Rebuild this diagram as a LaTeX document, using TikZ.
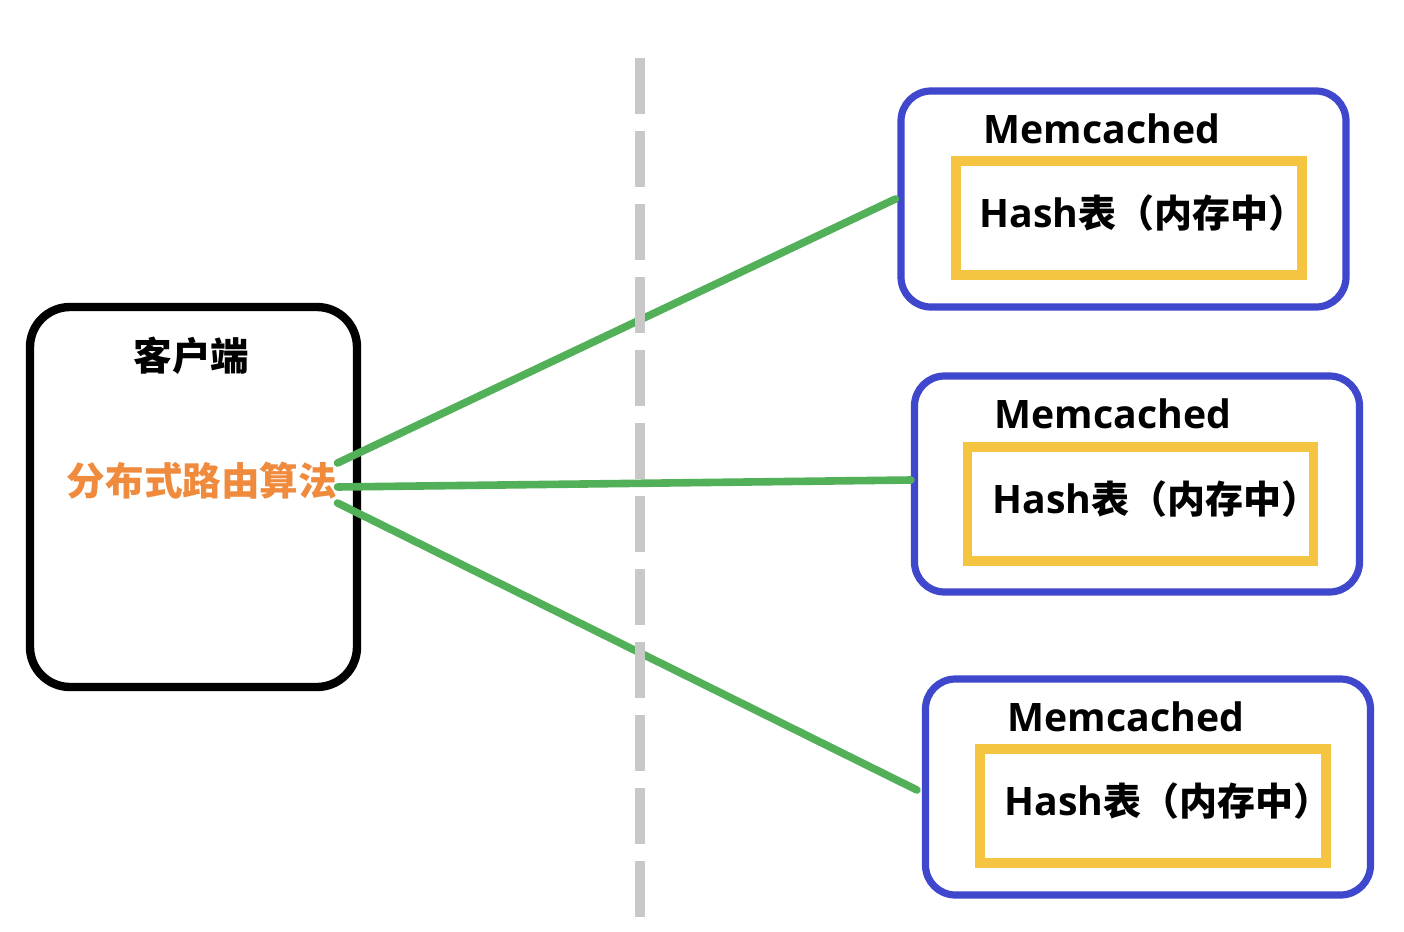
\documentclass[tikz,border=0pt]{standalone}
\usepackage{fontspec}
\setmainfont{Open Sans}
\newfontfamily\cjk{Noto Sans CJK SC}
\definecolor{mblue}{RGB}{63,72,204}
\definecolor{myellow}{RGB}{245,197,66}
\definecolor{mgreen}{RGB}{82,176,88}
\definecolor{mgray}{RGB}{200,200,200}
\definecolor{morange}{RGB}{240,138,60}
\newcommand{\latb}{\fontsize{19.6}{24}\selectfont\bfseries}
\newcommand{\cjkb}{\cjk\fontsize{19.3}{24}\selectfont\bfseries}
\newcommand{\hashtext}{{\latb Hash}{\cjk\fontsize{19}{24}\selectfont\bfseries 表（内存中）}}
\tikzset{
  clientbox/.style={draw=black, line width=4.2pt, rounded corners=20pt, minimum width=163.5pt, minimum height=190pt, inner sep=0pt},
  membox/.style={draw=mblue, line width=3.6pt, rounded corners=15pt, minimum width=222.5pt, minimum height=108pt, inner sep=0pt},
  hashbox/.style={draw=myellow, line width=4.8pt, minimum width=173pt, minimum height=57pt, inner sep=0pt},
  memlabel/.style={anchor=base, inner sep=0pt, font=\latb},
  hashlabel/.style={anchor=base west, inner sep=0pt},
  conn/.style={draw=mgreen, line width=3.8pt, line cap=round},
  divider/.style={draw=mgray, line width=4.8pt, dash pattern=on 28pt off 8.5pt}
}
\begin{document}
\begin{tikzpicture}[x=0.5pt,y=-0.5pt]
\useasboundingbox[fill=white] (0,0) rectangle (1404,932);
% client
\node[clientbox] (client) at (193.5,497) {};
\node[inner sep=0pt, font=\cjkb] (ctitle) at (191.5,356) {客户端};
\node[inner sep=0pt, font=\cjkb, text=morange] (algo) at (202,481) {分布式路由算法};
% memcached boxes
\node[membox] (m1) at (1123.5,199) {};
\node[hashbox] (h1) at (1129,218) {};
\node[memlabel] (l1) at (1102,143) {Memcached};
\node[hashlabel] (t1) at (979,227) {\hashtext};
\node[membox] (m2) at (1137,484) {};
\node[hashbox] (h2) at (1140.5,504) {};
\node[memlabel] (l2) at (1113,428) {Memcached};
\node[hashlabel] (t2) at (992,513) {\hashtext};
\node[membox] (m3) at (1148,787) {};
\node[hashbox] (h3) at (1153,806) {};
\node[memlabel] (l3) at (1126,731) {Memcached};
\node[hashlabel] (t3) at (1004,815) {\hashtext};
% connectors
\draw[conn] ([yshift=9pt]algo.east) -- ([xshift=-1pt]m1.west);
\draw[conn] ([yshift=-3pt]algo.east) -- ([yshift=2pt]m2.west);
\draw[conn] ([yshift=-11pt]algo.east) -- ([xshift=-2.5pt,yshift=-1.5pt]m3.west);
% divider
\coordinate (dtop) at (640,58);
\coordinate (dbot) at (640,960);
\draw[divider] (dtop) -- (dbot);
\end{tikzpicture}
\end{document}
